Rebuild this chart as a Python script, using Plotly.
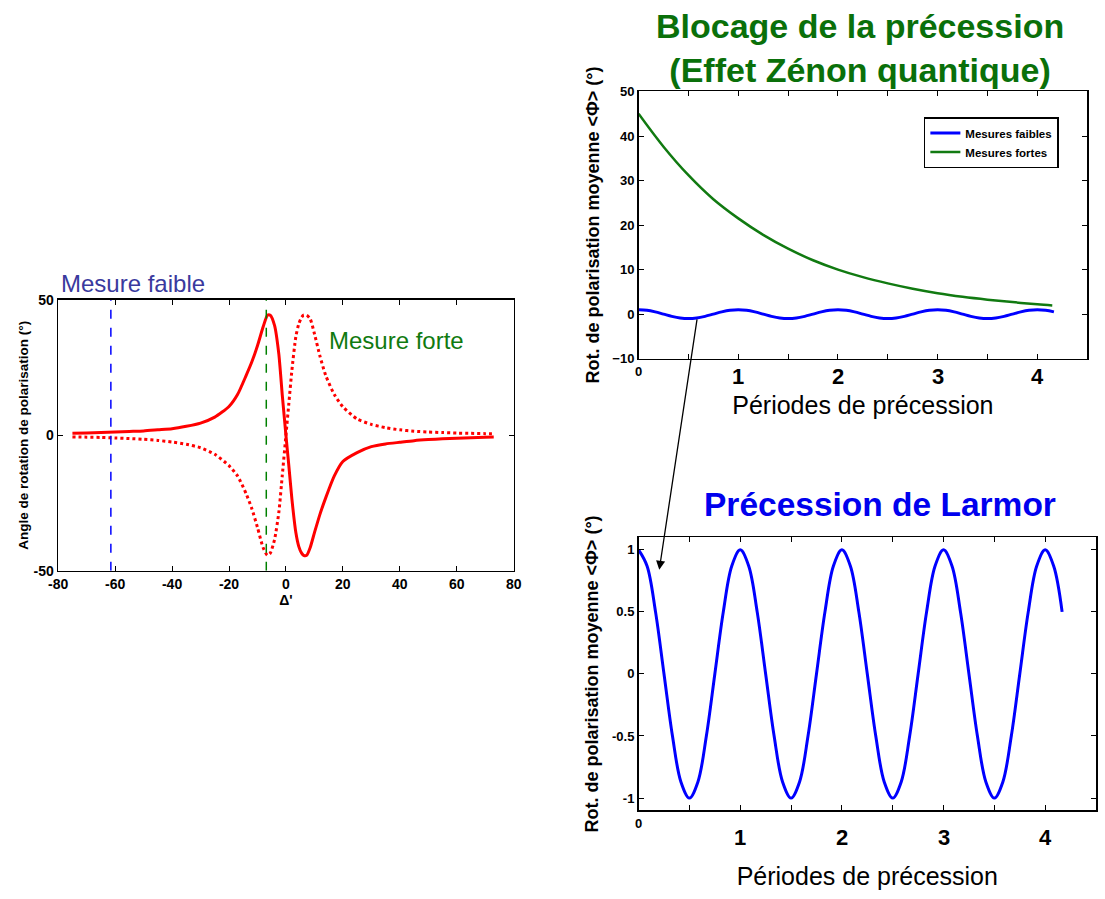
import plotly.graph_objects as go

# ---------------- Left panel: rotation angle vs detuning ----------------
delta = [-75, -70, -65, -60, -55, -50, -45, -40, -35, -30,
         -25, -20, -17, -14, -12, -10, -8, -6.5, -5.5, -4,
         -2.5, -1.3, 0, 1, 2.1, 3.5, 4.5, 5.5, 6.2, 7.3,
         8.5, 10, 12, 14, 17, 20, 25, 30, 35, 40,
         45, 50, 55, 60, 65, 70, 73]
rot_solid = [0.7, 0.8, 1.0, 1.2, 1.4, 1.6, 2.0, 2.4, 3.3, 4.5,
             6.7, 10.6, 15, 22, 27, 33, 40, 44.3, 44.3, 40.5,
             30, 15, 0, -11, -23.6, -36, -41, -43.5, -44.3, -44.3,
             -41.5, -36, -29, -23, -15, -9.7, -6.4, -4.2, -3.2, -2.6,
             -2.0, -1.6, -1.3, -1.1, -0.9, -0.7, -0.6]
rot_dotted = [-0.6, -0.7, -0.8, -1.0, -1.2, -1.5, -1.9, -2.5, -3.3, -4.6,
              -7.0, -11.2, -15, -21.5, -27, -34, -41.5, -44.3, -43.5, -38.5,
              -28.5, -15, 0, 11.5, 24, 36.5, 41, 43.5, 44.3, 44.3,
              43, 37.5, 29, 22, 15, 10.5, 6, 4, 2.8, 2.0,
              1.5, 1.2, 1.0, 0.8, 0.7, 0.6, 0.6]
weak_detuning = -61.5
strong_detuning = -6.9
left_xticks = [-80, -60, -40, -20, 0, 20, 40, 60, 80]
left_xticklabels = ["-80", "-60", "-40", "-20", "0", "20", "40", "60", "80"]
left_yticks = [-50, 0, 50]
left_yticklabels = ["-50", "0", "50"]

# ---------------- Right panels: precession periods ----------------
periods_weak = [i / 12 for i in range(51)]
phi_weak = [1, 0.87, 0.5, 0, -0.5, -0.87, -1, -0.87, -0.5, 0, 0.5, 0.87,
            1, 0.87, 0.5, 0, -0.5, -0.87, -1, -0.87, -0.5, 0, 0.5, 0.87,
            1, 0.87, 0.5, 0, -0.5, -0.87, -1, -0.87, -0.5, 0, 0.5, 0.87,
            1, 0.87, 0.5, 0, -0.5, -0.87, -1, -0.87, -0.5, 0, 0.5, 0.87,
            1, 0.87, 0.5]
periods_strong = [0, 0.25, 0.5, 0.75, 1, 1.25, 1.5, 1.75, 2, 2.25, 2.5,
                  2.75, 3, 3.25, 3.5, 3.75, 4, 4.15]
phi_strong = [45, 37.6, 31.2, 25.8, 21.5, 17.8, 14.7, 12.1, 10.0, 8.3, 6.9,
              5.7, 4.7, 3.9, 3.25, 2.7, 2.2, 1.95]
period_ticks = [0, 0.5, 1, 1.5, 2, 2.5, 3, 3.5, 4, 4.5]
period_big_labels = [1, 2, 3, 4]
top_yticks = [-10, 0, 10, 20, 30, 40, 50]
bot_yticks = [-1, -0.5, 0, 0.5, 1]
bot_yticklabels = ["-1", "-0.5", "0", "0.5", "1"]

FONT = "Arial, Liberation Sans, sans-serif"
W, H = 1105, 899


def px_x(p):
    return p / W


def px_y(p):
    return 1 - p / H


fig = go.Figure()

# Left panel traces
fig.add_trace(go.Scatter(x=delta, y=rot_solid, mode="lines",
                         line=dict(color="#ff0000", width=3, shape="spline", smoothing=0.6),
                         showlegend=False, xaxis="x", yaxis="y"))
fig.add_trace(go.Scatter(x=delta, y=rot_dotted, mode="lines",
                         line=dict(color="#ff0000", width=3, dash="dot", shape="spline",
                                   smoothing=0.6),
                         showlegend=False, xaxis="x", yaxis="y"))
fig.add_trace(go.Scatter(x=[weak_detuning, weak_detuning], y=[-50, 50], mode="lines",
                         line=dict(color="#0000ff", width=1.5, dash="dash"),
                         showlegend=False, xaxis="x", yaxis="y"))
fig.add_trace(go.Scatter(x=[strong_detuning, strong_detuning], y=[-50, 50], mode="lines",
                         line=dict(color="#008000", width=1.5, dash="dash"),
                         showlegend=False, xaxis="x", yaxis="y"))

# Top-right panel
fig.add_trace(go.Scatter(x=periods_weak, y=phi_weak, mode="lines", name="Mesures faibles",
                         line=dict(color="#0000ff", width=3, shape="spline", smoothing=1),
                         xaxis="x2", yaxis="y2"))
fig.add_trace(go.Scatter(x=periods_strong, y=phi_strong, mode="lines", name="Mesures fortes",
                         line=dict(color="#117a11", width=2.5, shape="spline", smoothing=1),
                         xaxis="x2", yaxis="y2"))

# Bottom-right panel
fig.add_trace(go.Scatter(x=periods_weak, y=phi_weak, mode="lines",
                         line=dict(color="#0000ff", width=3, shape="spline", smoothing=1),
                         showlegend=False, xaxis="x3", yaxis="y3"))

axis_common = dict(showline=True, linecolor="black", linewidth=1.6, mirror="ticks",
                   ticks="inside", ticklen=5, tickwidth=1, tickcolor="black",
                   showgrid=False, zeroline=False,
                   tickfont=dict(family=FONT, size=13, color="black", weight="bold"))

fig.update_layout(
    width=W, height=H,
    margin=dict(l=0, r=0, t=0, b=0),
    paper_bgcolor="white", plot_bgcolor="white",
    font=dict(family=FONT, color="black"),
    xaxis=dict(axis_common, domain=[px_x(49), px_x(512)], range=[-80, 80],
               tickmode="array", tickvals=left_xticks, ticktext=left_xticklabels,
               tickfont=dict(family=FONT, size=14, color="black", weight="bold"),
               anchor="y",
               title=dict(text="Δ'", standoff=0,
                          font=dict(family=FONT, size=14, color="black", weight="bold"))),
    yaxis=dict(axis_common, domain=[px_y(573), px_y(297)], range=[-50, 50],
               tickmode="array", tickvals=left_yticks, ticktext=left_yticklabels,
               tickfont=dict(family=FONT, size=14, color="black", weight="bold"),
               anchor="x",
               title=dict(text="Angle de rotation de polarisation (°)", standoff=2,
                          font=dict(family=FONT, size=13.5, color="black", weight="bold"))),
    xaxis2=dict(axis_common, domain=[px_x(639), px_x(1095)], range=[0, 4.5],
                tickmode="array", tickvals=period_ticks,
                ticktext=["0"] + [""] * (len(period_ticks) - 1),
                anchor="y2",
                title=dict(text="Périodes de précession", standoff=18,
                           font=dict(family=FONT, size=25, color="black"))),
    yaxis2=dict(axis_common, domain=[px_y(357), px_y(85)], range=[-10, 50],
                tickmode="array", tickvals=top_yticks, anchor="x2",
                title=dict(text="Rot. de polarisation moyenne &lt;Φ&gt; (°)", standoff=8,
                           font=dict(family=FONT, size=18, color="black", weight="bold"))),
    xaxis3=dict(axis_common, domain=[px_x(639), px_x(1104)], range=[0, 4.5],
                tickmode="array", tickvals=period_ticks,
                ticktext=["0"] + [""] * (len(period_ticks) - 1),
                anchor="y3",
                title=dict(text="Périodes de précession", standoff=38,
                           font=dict(family=FONT, size=25, color="black"))),
    yaxis3=dict(axis_common, domain=[px_y(817), px_y(539)], range=[-1.1, 1.1],
                tickmode="array", tickvals=bot_yticks, ticktext=bot_yticklabels,
                anchor="x3",
                title=dict(text="Rot. de polarisation moyenne &lt;Φ&gt; (°)", standoff=8,
                           font=dict(family=FONT, size=18, color="black", weight="bold"))),
    legend=dict(x=px_x(929), y=px_y(111), xanchor="left", yanchor="top",
                bgcolor="white", bordercolor="black", borderwidth=1.5,
                font=dict(family=FONT, size=11.5, color="black", weight="bold"),
                itemwidth=30, tracegroupgap=0),
)

annotations = []
# big period labels below both right panels
for v in period_big_labels:
    annotations.append(dict(x=v, xref="x2", y=px_y(375), yref="paper", text=str(v),
                            showarrow=False, yanchor="middle",
                            font=dict(family=FONT, size=22, color="black", weight="bold")))
    annotations.append(dict(x=v, xref="x3", y=px_y(845), yref="paper", text=str(v),
                            showarrow=False, yanchor="middle",
                            font=dict(family=FONT, size=22, color="black", weight="bold")))

# titles and labels
annotations += [
    dict(x=px_x(50), y=px_y(281), xref="paper", yref="paper", text="Mesure faible",
         showarrow=False, xanchor="left", yanchor="middle",
         font=dict(family=FONT, size=24, color="#3a3a9e")),
    dict(x=px_x(322), y=px_y(339), xref="paper", yref="paper", text="Mesure forte",
         showarrow=False, xanchor="left", yanchor="middle",
         font=dict(family=FONT, size=24, color="#107a10")),
    dict(x=px_x(864), y=px_y(41), xref="paper", yref="paper",
         text="Blocage de la précession<br>(Effet Zénon quantique)",
         showarrow=False, xanchor="center", yanchor="middle",
         font=dict(family=FONT, size=34, color="#0a700a", weight="bold")),
    dict(x=px_x(884), y=px_y(506), xref="paper", yref="paper",
         text="Précession de Larmor",
         showarrow=False, xanchor="center", yanchor="middle",
         font=dict(family=FONT, size=33.5, color="#0000ee", weight="bold")),
    # arrow from weak-measurement curve to the Larmor precession panel
    dict(x=px_x(660), y=px_y(572), xref="paper", yref="paper",
         ax=698 - 660, ay=320 - 572, axref="pixel", ayref="pixel",
         text="", showarrow=True, arrowhead=2, arrowsize=1.4, arrowwidth=1.3,
         arrowcolor="black", standoff=0, startstandoff=0),
]
fig.update_layout(annotations=annotations)

# remove the default 8px page margin so the figure fills the window exactly
fig.write_html("out.html", config={"displayModeBar": False, "staticPlot": True},
               post_script="document.body.style.margin='0px';")
